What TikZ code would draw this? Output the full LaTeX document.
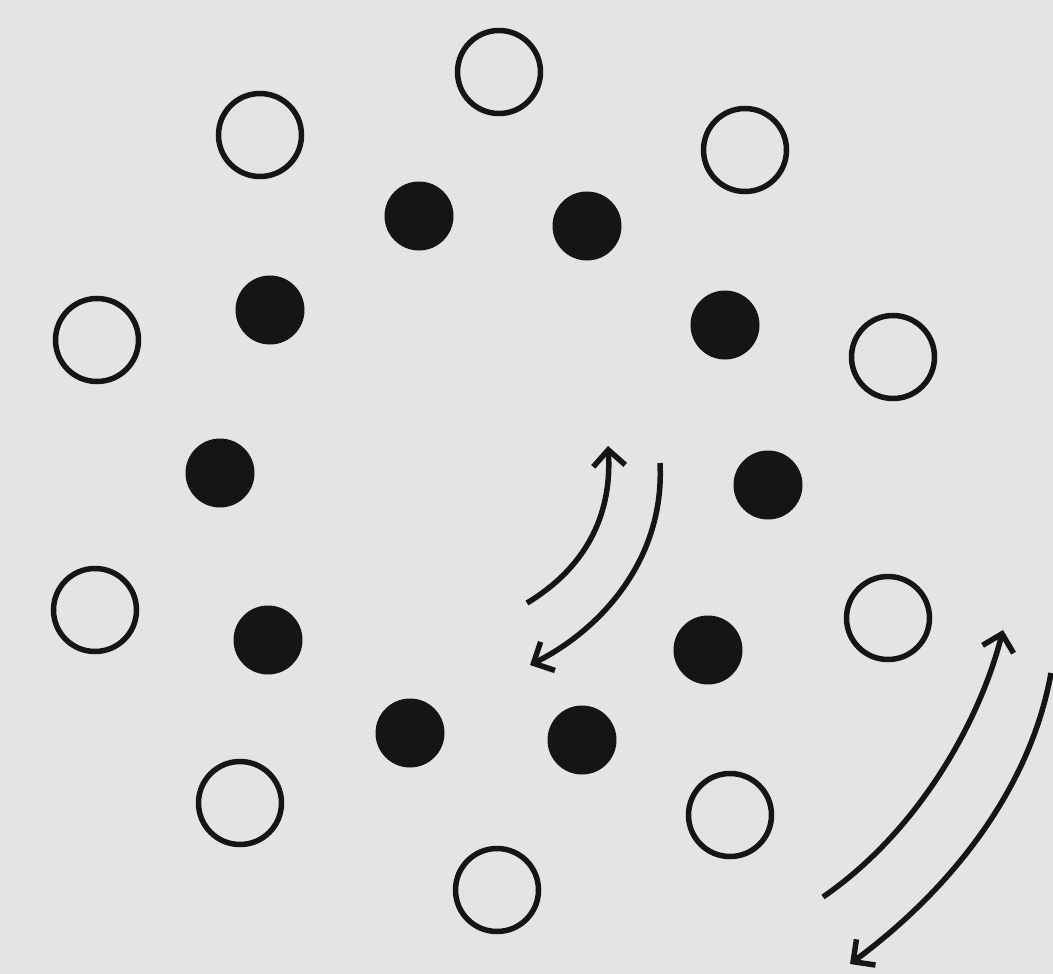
\documentclass[tikz,border=0pt]{standalone}
\usetikzlibrary{arrows.meta}
\definecolor{paper}{HTML}{E3E5E4}
\definecolor{ink}{HTML}{151515}
\begin{document}
\begin{tikzpicture}[x=1pt,y=-1pt,
  opencirc/.style={circle,draw=ink,line width=5.5pt,fill=none,minimum size=83pt,inner sep=0pt},
  fullcirc/.style={circle,fill=ink,draw=none,minimum size=69pt,inner sep=0pt},
  arr/.style={draw=ink,line width=5.5pt,-{Straight Barb[length=16pt,width=32pt,line width=5.5pt]}}]
\fill[paper] (0,0) rectangle (1053,974);
\useasboundingbox (0,0) rectangle (1053,974);
% outer open circles
\node[opencirc] (o1) at (499,72) {};
\node[opencirc] (o2) at (260,135) {};
\node[opencirc] (o3) at (745,150) {};
\node[opencirc] (o4) at (97,340) {};
\node[opencirc] (o5) at (893,357) {};
\node[opencirc] (o6) at (95,610) {};
\node[opencirc] (o7) at (888,618) {};
\node[opencirc] (o8) at (240,803) {};
\node[opencirc] (o9) at (730,815) {};
\node[opencirc] (o10) at (497,890) {};
% inner filled circles
\node[fullcirc] (f1) at (419,216) {};
\node[fullcirc] (f2) at (587,226) {};
\node[fullcirc] (f3) at (270,310) {};
\node[fullcirc] (f4) at (725,325) {};
\node[fullcirc] (f5) at (220,473) {};
\node[fullcirc] (f6) at (768,485) {};
\node[fullcirc] (f7) at (268,640) {};
\node[fullcirc] (f8) at (708,650) {};
\node[fullcirc] (f9) at (410,733) {};
\node[fullcirc] (f10) at (582,740) {};
% arrow end points
\coordinate (a1s) at (527,603);
\coordinate (a1e) at (608,446);
\coordinate (a2s) at (660,463);
\coordinate (a2e) at (530,665);
\coordinate (a3s) at (823,897);
\coordinate (a3e) at (1003,630);
\coordinate (a4s) at (1051,673);
\coordinate (a4e) at (850,964);
\draw[arr] (a1s) .. controls (590,565) and (612,510) .. (a1e);
\draw[arr] (a2s) .. controls (665,560) and (600,630) .. (a2e);
\draw[arr] (a3s) .. controls (920,830) and (980,720) .. (a3e);
\draw[arr] (a4s) .. controls (1030,790) and (950,890) .. (a4e);
\end{tikzpicture}
\end{document}
